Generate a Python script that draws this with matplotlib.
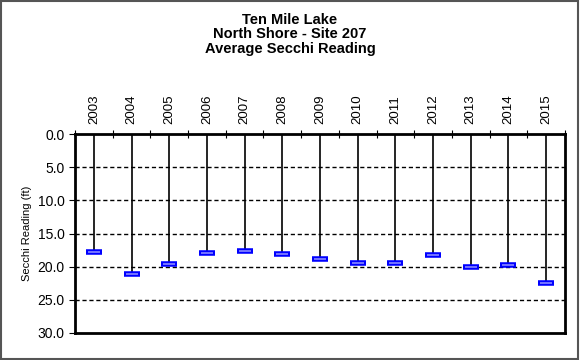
import numpy as np
import matplotlib.pyplot as plt
from matplotlib.patches import Rectangle

plt.rcParams['font.family'] = ['Liberation Sans', 'DejaVu Sans']

years = ["2003", "2004", "2005", "2006", "2007", "2008", "2009",
         "2010", "2011", "2012", "2013", "2014", "2015"]
secchi = [17.8, 21.1, 19.6, 18.0, 17.7, 18.1, 18.85,
          19.4, 19.5, 18.25, 20.1, 19.8, 22.5]

fig = plt.figure(figsize=(5.8, 3.6), dpi=100)
ax = fig.add_axes([75/580, 1 - 333/360, 490/580, 199/360])

x = np.arange(len(years))
# stems from surface down to reading
ax.vlines(x, 0, secchi, color="black", lw=1.2, zorder=2)
ax.plot(x, secchi, ls="none", marker="_", ms=12, mew=4, color="blue", zorder=3)
ax.plot(x, secchi, ls="none", marker="_", ms=9, mew=1.2, color="#8888ff", zorder=4)

ax.set_xlim(-0.5, len(years) - 0.5)
ax.set_ylim(30, 0)
ax.set_yticks(np.arange(0, 31, 5))
ax.set_yticklabels([f"{v:.1f}" for v in np.arange(0, 31, 5)], fontsize=10)
ax.set_xticks(x)
ax.set_xticklabels(years, rotation=90, fontsize=9.5)
ax.set_xticks(np.arange(-0.5, len(years)), minor=True)
ax.xaxis.tick_top()
ax.tick_params(axis="x", which="major", length=0, pad=7)
ax.tick_params(axis="x", which="minor", direction="inout", length=6, width=0.8)
ax.tick_params(axis="y", direction="out", length=4, width=0.8)
for yy in [5, 10, 15, 20, 25]:
    ax.axhline(yy, color="black", ls=(0, (3, 2)), lw=1, zorder=1)
for s in ax.spines.values():
    s.set_linewidth(2)
ax.set_ylabel("Secchi Reading (ft)", fontsize=8)

fig.text(0.5, 0.965, "Ten Mile Lake\nNorth Shore - Site 207\nAverage Secchi Reading",
         ha="center", va="top", fontsize=10.5, fontweight="bold", linespacing=1.05)
fig.patches.append(Rectangle((0.002, 0.003), 0.995, 0.994, transform=fig.transFigure,
                             fill=False, ec="#555555", lw=1.5))

fig.savefig("out.png", dpi=100)
